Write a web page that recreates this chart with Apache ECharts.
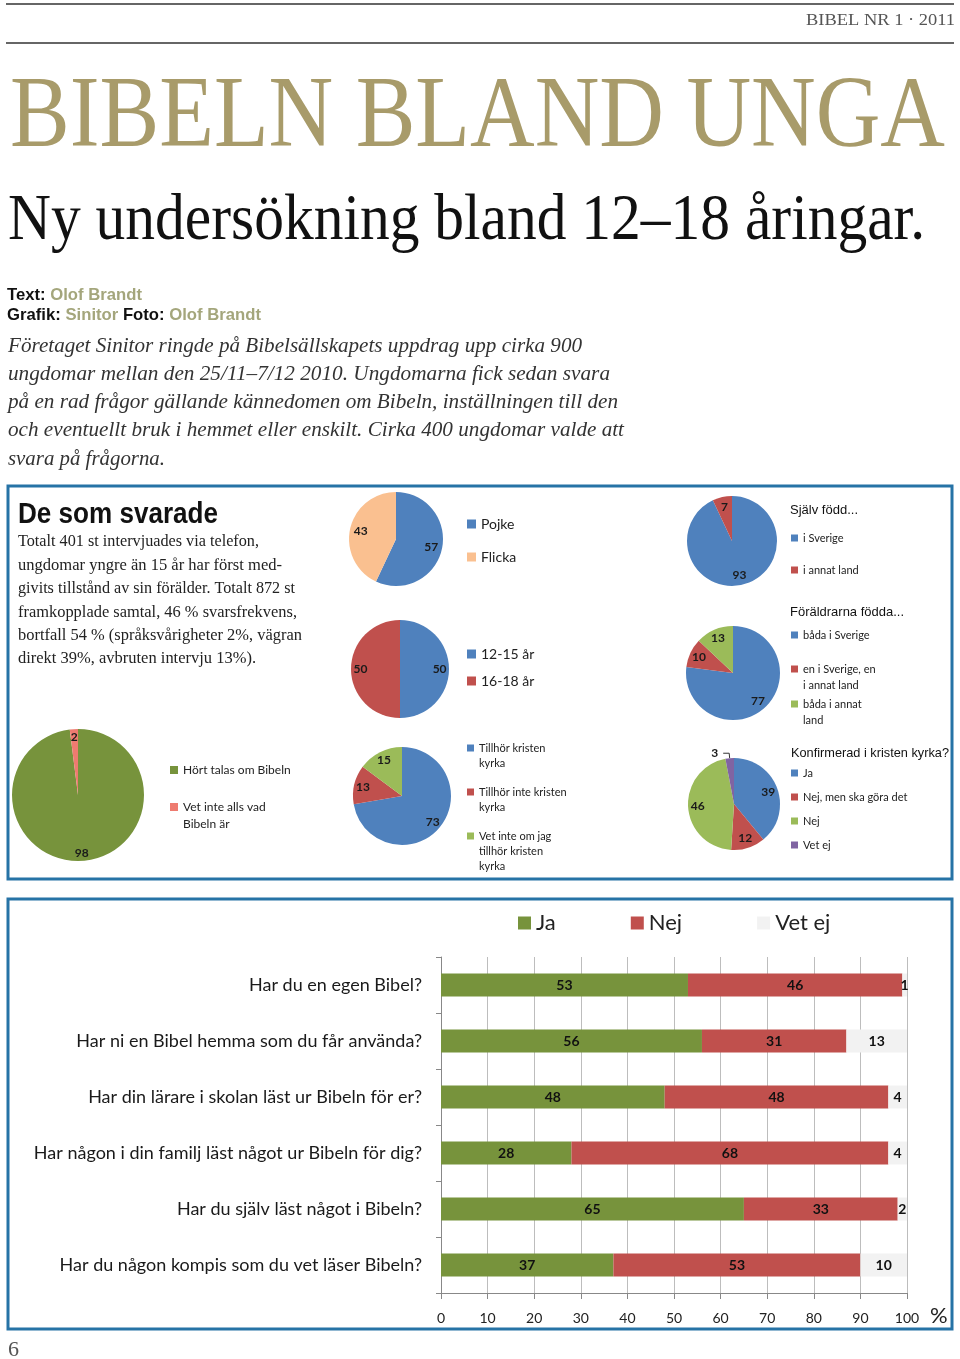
<!DOCTYPE html>
<html>
<head>
<meta charset="utf-8">
<title>Bibeln bland unga</title>
<script src="https://cdn.jsdelivr.net/npm/echarts@6/dist/echarts.min.js"></script>
<style>
html, body { margin: 0; padding: 0; background: #fff; }
#main { width: 960px; height: 1359px; }
</style>
</head>
<body>
<div id="main"></div>
<script>
// --- pie data (procent) ---
const genderNames = ['Pojke', 'Flicka']
const genderValues = [57, 43]
const ageNames = ['12-15 år', '16-18 år']
const ageValues = [50, 50]
const bornNames = ['i Sverige', 'i annat land']
const bornValues = [93, 7]
const parentNames = ['båda i Sverige', 'en i Sverige, en\ni annat land', 'båda i annat\nland']
const parentValues = [77, 10, 13]
const bibleNames = ['Hört talas om Bibeln', 'Vet inte alls vad\nBibeln är']
const bibleValues = [98, 2]
const churchNames = ['Tillhör kristen\nkyrka', 'Tillhör inte kristen\nkyrka', 'Vet inte om jag\ntillhör kristen\nkyrka']
const churchValues = [73, 13, 15]
const confNames = ['Ja', 'Nej, men ska göra det', 'Nej', 'Vet ej']
const confValues = [39, 12, 46, 3]

// --- bar data ---
const questions = [
  'Har du en egen Bibel?',
  'Har ni en Bibel hemma som du får använda?',
  'Har din lärare i skolan läst ur Bibeln för er?',
  'Har någon i din familj läst något ur Bibeln för dig?',
  'Har du själv läst något i Bibeln?',
  'Har du någon kompis som du vet läser Bibeln?',
]
const answerNames = ['Ja', 'Nej', 'Vet ej']
const jaValues = [53, 56, 48, 28, 65, 37]
const nejValues = [46, 31, 48, 68, 33, 53]
const vetEjValues = [1, 13, 4, 4, 2, 10]
const axisMin = 0
const axisMax = 100
const axisStep = 10

const BLUE = '#4f81bd', RED = '#c0504d', GREEN = '#9bbb59', PEACH = '#fac090', PURPLE = '#8064a2'
const OLIVE = '#77933c', SALMON = '#ee7b70', LIGHT = '#f2f2f2'
const BOX = '#2673a6'
const SERIF = '"Liberation Serif", "DejaVu Serif", serif'
const SANS = '"Liberation Sans", Arial, sans-serif'
const CAL = 'Lato, "Open Sans", sans-serif'

// measure text so a line can be squeezed to the width in the layout
const ctx = document.createElement('canvas').getContext('2d')
function fitScale(text, font, width) {
  ctx.font = font
  return width / ctx.measureText(text.replace(/\{\w+\|([^}]*)\}/g, '$1')).width
}

function txt(x, y, text, font, fill, width, align, rich) {
  let el = {
    type: 'text', x: x, y: y, silent: true,
    style: { text: text, font: font, fill: fill, align: align || 'left', verticalAlign: 'middle' },
  }
  if (rich) el.style.rich = rich
  if (width) el.scaleX = fitScale(text, font, width)
  return el
}

// labels sit further out than ECharts' half radius
function pushOut(center, k, skip) {
  return function (p) {
    if (skip && skip.indexOf(p.dataIndex) >= 0) return
    let r = p.labelRect
    let lx = r.x + r.width / 2, ly = r.y + r.height / 2
    return { x: center[0] + (lx - center[0]) * k, y: center[1] + (ly - center[1]) * k }
  }
}

function pie(names, values, colors, center, radius, k, extra) {
  return {
    type: 'pie', center: center, radius: radius, startAngle: 90, clockwise: true,
    color: colors, silent: true,
    label: { show: true, position: 'inside', formatter: '{c}', fontFamily: CAL, fontWeight: 'bold', fontSize: 12, color: '#1a1a1a' },
    labelLine: { show: false },
    labelLayout: pushOut(center, k, extra && extra.skip),
    itemStyle: { borderWidth: 0 },
    data: names.map((name, i) => {
      let d = { name: name, value: values[i] }
      if (extra && extra.items && extra.items[i]) Object.assign(d, extra.items[i])
      return d
    }),
  }
}

let graphics = []

// legend block with evenly spaced one-line items
function legendList(x, y0, names, fs, lh, gap, icon, colors) {
  return {
    left: x, top: y0 - lh / 2, padding: 0, orient: 'vertical', selectedMode: false,
    itemWidth: icon, itemHeight: icon, itemGap: gap, icon: 'rect',
    textStyle: { fontFamily: CAL, fontSize: fs, lineHeight: lh, color: '#222' },
    data: names.map((n, i) => colors ? { name: n, itemStyle: { color: colors[i] } } : n),
  }
}
// single legend entry: the square sits by the first line, the wrapped
// lines of the name continue below it
function legendItem(x, y, name, fs, lh, icon) {
  let lines = name.split('\n')
  lines.slice(1).forEach((l, j) => graphics.push(txt(x + icon + 5, y + (j + 1) * lh, l, fs + 'px ' + CAL, '#222')))
  return {
    left: x, top: y - lh / 2, padding: 0, orient: 'vertical', selectedMode: false,
    itemWidth: icon, itemHeight: icon, icon: 'rect',
    formatter: n => n.split('\n')[0],
    textStyle: { fontFamily: CAL, fontSize: fs, lineHeight: lh, color: '#222' },
    data: [name],
  }
}

const cGender = [396, 539], cAge = [400, 669], cBorn = [732, 541], cParent = [733, 673]
const cBible = [78, 795], cChurch = [402, 796], cConf = [734, 804]

const introLines = [
  ['Företaget Sinitor ringde på Bibelsällskapets uppdrag upp cirka 900', 574],
  ['ungdomar mellan den 25/11–7/12 2010. Ungdomarna fick sedan svara', 602],
  ['på en rad frågor gällande kännedomen om Bibeln, inställningen till den', 610],
  ['och eventuellt bruk i hemmet eller enskilt. Cirka 400 ungdomar valde att', 616],
  ['svara på frågorna.', 157],
]
const boxLines = [
  ['Totalt 401 st intervjuades via telefon,', 241],
  ['ungdomar yngre än 15 år har först med-', 264],
  ['givits tillstånd av sin förälder. Totalt 872 st', 277],
  ['framkopplade samtal, 46 % svarsfrekvens,', 279],
  ['bortfall 54 % (språksvårigheter 2%, vägran', 284],
  ['direkt 39%, avbruten intervju 13%).', 238],
]

graphics.push(
  { type: 'rect', silent: true, shape: { x: 6, y: 3, width: 948, height: 2 }, style: { fill: '#666' } },
  { type: 'rect', silent: true, shape: { x: 6, y: 42, width: 948, height: 2 }, style: { fill: '#666' } },
  txt(955, 21, 'BIBEL NR 1 · 2011', '16px ' + SERIF, '#555', 149, 'right'),
  txt(10, 119, 'BIBELN BLAND UNGA', '102px ' + SERIF, '#a89b6a', 935),
  txt(8, 222, 'Ny undersökning bland 12–18 åringar.', '65px ' + SERIF, '#111', 917),
  txt(7, 295, '{a|Text:} {b|Olof Brandt}', 'bold 17px ' + SANS, '#111', 135, 'left',
    { a: { fill: '#111', font: 'bold 17px ' + SANS }, b: { fill: '#a4a67c', font: 'bold 17px ' + SANS } }),
  txt(7, 315, '{a|Grafik:} {b|Sinitor} {a|Foto:} {b|Olof Brandt}', 'bold 17px ' + SANS, '#111', 254, 'left',
    { a: { fill: '#111', font: 'bold 17px ' + SANS }, b: { fill: '#a4a67c', font: 'bold 17px ' + SANS } }),
  { type: 'rect', silent: true, shape: { x: 8, y: 486, width: 944, height: 393 }, style: { fill: 'none', stroke: BOX, lineWidth: 3 } },
  { type: 'rect', silent: true, shape: { x: 8, y: 899, width: 944, height: 430 }, style: { fill: 'none', stroke: BOX, lineWidth: 3 } },
  txt(18, 515, 'De som svarade', 'bold 30px ' + SANS, '#111', 200),
  txt(790, 510, 'Själv född...', '13px ' + SANS, '#111', 68),
  txt(790, 612, 'Föräldrarna födda...', '13px ' + SANS, '#111', 114),
  txt(791, 753, 'Konfirmerad i kristen kyrka?', '13px ' + SANS, '#111', 158),
  txt(930, 1316, '%', '22px ' + CAL, '#222'),
  txt(8, 1350, '6', '22px ' + SERIF, '#555')
)
introLines.forEach((l, i) => graphics.push(txt(8, 346 + i * 28.3, l[0], 'italic 21px ' + SERIF, '#333', l[1])))
boxLines.forEach((l, i) => graphics.push(txt(18, 542 + i * 23.4, l[0], '17px ' + SERIF, '#222', l[1])))

let legends = [
  legendList(467, 524, genderNames, 14, 16, 17, 9),
  legendList(467, 654, ageNames, 14, 16, 11, 9),
  legendList(791, 538, bornNames, 11, 13, 19, 7),
  legendItem(791, 635, parentNames[0], 11, 16, 7),
  legendItem(791, 669, parentNames[1], 11, 16, 7),
  legendItem(791, 704, parentNames[2], 11, 16, 7),
  legendItem(170, 770, bibleNames[0], 12, 17, 8),
  legendItem(170, 807, bibleNames[1], 12, 17, 8),
  legendItem(467, 748, churchNames[0], 11, 15, 7),
  legendItem(467, 792, churchNames[1], 11, 15, 7),
  legendItem(467, 836, churchNames[2], 11, 15, 7),
  legendList(791, 773, confNames, 11, 13, 11, 7, [BLUE, RED, GREEN, PURPLE]),
  {
    left: 518, top: 923 - 13, padding: 0, orient: 'horizontal', selectedMode: false,
    itemWidth: 13, itemHeight: 13, itemGap: 75, icon: 'rect',
    textStyle: { fontFamily: CAL, fontSize: 22, lineHeight: 26, color: '#222' },
    data: answerNames,
  },
]

let chart = echarts.init(document.getElementById('main'))
chart.setOption({
  animation: false,
  backgroundColor: '#fff',
  graphic: graphics,
  legend: legends,
  grid: { left: 441, top: 957, width: 466, height: 336, containLabel: false },
  xAxis: {
    type: 'value', min: axisMin, max: axisMax, interval: axisStep,
    axisLine: { show: true, lineStyle: { color: '#888' } },
    axisTick: { show: true, length: 6, lineStyle: { color: '#888' } },
    axisLabel: { fontFamily: CAL, fontSize: 14, color: '#222', margin: 18 },
    splitLine: { show: true, lineStyle: { color: '#bdbdbd' } },
  },
  yAxis: {
    type: 'category', data: questions, inverse: true,
    axisLine: { show: true, lineStyle: { color: '#888' } },
    axisTick: { show: true, length: 5, lineStyle: { color: '#888' } },
    axisLabel: { fontFamily: CAL, fontSize: 18, color: '#1a1a1a', margin: 19 },
  },
  series: [
    pie(genderNames, genderValues, [BLUE, PEACH], cGender, 47, 1.36),
    pie(ageNames, ageValues, [BLUE, RED], cAge, 49, 1.44),
    pie(bornNames, bornValues, [BLUE, RED], cBorn, 45, 1.36),
    pie(parentNames, parentValues, [BLUE, RED, GREEN], cParent, 47, 1.42),
    pie(bibleNames, bibleValues, [OLIVE, SALMON], cBible, 66, 1.62),
    pie(churchNames, churchValues, [BLUE, RED, GREEN], cChurch, 49, 1.46),
    pie(confNames, confValues, [BLUE, RED, GREEN, PURPLE], cConf, 46, 1.4, {
      skip: [3],
      items: { 3: { label: { position: 'outside', distance: 2 }, labelLine: { show: true, length: 5, length2: 6, lineStyle: { color: '#333' } } } },
    }),
  ].concat([jaValues, nejValues, vetEjValues].map((vals, i) => ({
    name: answerNames[i], type: 'bar', stack: 'svar', barWidth: 23, silent: true,
    itemStyle: { color: [OLIVE, RED, LIGHT][i] },
    label: { show: true, position: 'inside', fontFamily: CAL, fontWeight: 'bold', fontSize: 14, color: '#111' },
    data: vals,
  }))),
})
</script>
</body>
</html>
